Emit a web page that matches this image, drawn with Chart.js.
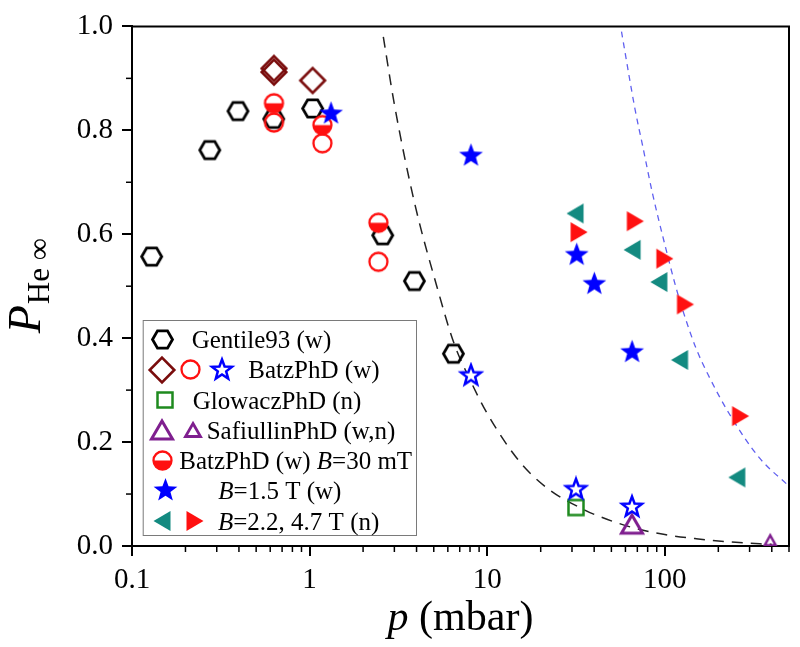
<!DOCTYPE html>
<html><head><meta charset="utf-8">
<script src="https://cdn.jsdelivr.net/npm/chart.js@4.4.0/dist/chart.umd.min.js"></script>
<style>html,body{margin:0;padding:0;background:#fff;}#wrap{width:800px;height:647px;position:relative;}</style>
</head><body><div id="wrap"><canvas id="c" width="800" height="647"></canvas></div>
<script>
// ---- data ----
const gentileP = [0.129, 0.274, 0.395, 0.628, 1.04, 2.58, 3.89, 6.45];
const gentileV = [0.557, 0.762, 0.837, 0.822, 0.842, 0.598, 0.510, 0.370];
const batzDiamondP = [0.63, 0.63, 1.04];
const batzDiamondV = [0.912, 0.919, 0.896];
const batzCircleP = [0.63, 1.18, 2.44];
const batzCircleV = [0.815, 0.775, 0.547];
const batzStarP = [8.1, 31.6, 65.3];
const batzStarV = [0.328, 0.109, 0.075];
const glowaczP = [31.6];
const glowaczV = [0.074];
const safiullinWP = [65.3];
const safiullinWV = [0.042];
const safiullinNP = [392];
const safiullinNV = [0.011];
const batz30P = [0.63, 1.18, 2.44];
const batz30V = [0.852, 0.810, 0.622];
const b15P = [1.32, 8.1, 31.9, 40.1, 65.4];
const b15V = [0.832, 0.751, 0.560, 0.504, 0.373];
const b22P = [31.2, 65.4, 92.5, 121, 254];
const b22V = [0.640, 0.570, 0.508, 0.358, 0.132];
const b47P = [32.9, 68.2, 100, 130.6, 267];
const b47V = [0.604, 0.625, 0.553, 0.465, 0.250];
const curveBlackP = [2.6, 3.0, 3.9, 5.2, 6.5, 8, 10, 15, 22, 35, 42, 65, 100, 150, 250, 400];
const curveBlackV = [0.98, 0.85, 0.66, 0.50, 0.39, 0.32, 0.255, 0.165, 0.11, 0.07, 0.058, 0.036, 0.022, 0.014, 0.007, 0.003];
const curveBlueP = [57, 68, 75, 85, 100, 115, 130, 150, 175, 230, 340, 500];
const curveBlueV = [0.99, 0.84, 0.77, 0.68, 0.58, 0.50, 0.44, 0.38, 0.33, 0.255, 0.17, 0.115];
const xTicks = [0.1, 1, 10, 100];
const yTicks = [0, 0.2, 0.4, 0.6, 0.8, 1.0];
const yMinorTicks = [0.1, 0.3, 0.5, 0.7, 0.9];

// ---- colours ----
const C_BLACK = '#000000', C_MAROON = '#7a0c0c', C_RED = '#ff1010', C_BLUE = '#0000ff',
      C_GREEN = '#1e8a1e', C_PURPLE = '#7f1f8f', C_TEAL = '#138a80';
const SERIF = '"Liberation Serif", "Times New Roman", serif';

// ---- marker images ----
function mk(w, h, draw) {
  const c = document.createElement('canvas'); c.width = w; c.height = h;
  const g = c.getContext('2d'); g.translate(w / 2, h / 2); draw(g); return c;
}
function hexagon(R, lw, col) {
  const s = Math.ceil(2 * R + lw + 4);
  return mk(s, s, g => { g.beginPath(); for (let i = 0; i < 6; i++) { const a = i * Math.PI / 3; g.lineTo(R * Math.cos(a), R * Math.sin(a)); } g.closePath(); g.lineWidth = lw; g.strokeStyle = col; g.stroke(); });
}
function diamond(R, lw, col) {
  const s = Math.ceil(2 * R + lw + 4);
  return mk(s, s, g => { g.beginPath(); g.moveTo(0, -R); g.lineTo(R, 0); g.lineTo(0, R); g.lineTo(-R, 0); g.closePath(); g.lineWidth = lw; g.strokeStyle = col; g.stroke(); });
}
function circ(R, lw, col) {
  const s = Math.ceil(2 * R + lw + 4);
  return mk(s, s, g => { g.beginPath(); g.arc(0, 0, R, 0, 2 * Math.PI); g.lineWidth = lw; g.strokeStyle = col; g.stroke(); });
}
function halfCirc(R, lw, col) {
  const s = Math.ceil(2 * R + lw + 4);
  return mk(s, s, g => { g.beginPath(); g.arc(0, 0, R, 0, 2 * Math.PI); g.fillStyle = '#fff'; g.fill();
    g.beginPath(); g.arc(0, 0, R, 0, Math.PI); g.closePath(); g.fillStyle = col; g.fill();
    g.beginPath(); g.arc(0, 0, R, 0, 2 * Math.PI); g.lineWidth = lw; g.strokeStyle = col; g.stroke(); });
}
function starPath(g, Ro, Ri) {
  g.beginPath();
  for (let i = 0; i < 10; i++) { const a = -Math.PI / 2 + i * Math.PI / 5; const r = i % 2 ? Ri : Ro; g.lineTo(r * Math.cos(a), r * Math.sin(a)); }
  g.closePath();
}
function starFilled(Ro, Ri, col) {
  const s = Math.ceil(2 * Ro + 4);
  return mk(s, s, g => { starPath(g, Ro, Ri); g.fillStyle = col; g.fill(); });
}
function starOpen(Ro, Ri, lw, col) {
  const s = Math.ceil(2 * Ro + lw + 4);
  return mk(s, s, g => { starPath(g, Ro, Ri); g.fillStyle = '#fff'; g.fill(); g.lineWidth = lw; g.strokeStyle = col; g.lineJoin = 'miter'; g.stroke(); });
}
function square(a, lw, col) {
  const s = Math.ceil(a + lw + 4);
  return mk(s, s, g => { g.lineWidth = lw; g.strokeStyle = col; g.strokeRect(-a / 2, -a / 2, a, a); });
}
function triUp(b, h, lw, col) {
  const s = Math.ceil(Math.max(b, h) + lw + 6);
  return mk(s, s, g => { g.beginPath(); g.moveTo(0, -h / 2); g.lineTo(b / 2, h / 2); g.lineTo(-b / 2, h / 2); g.closePath(); g.lineWidth = lw; g.strokeStyle = col; g.stroke(); });
}
function triSide(w, h, dir, col) {
  const s = Math.ceil(Math.max(w, h) + 4);
  return mk(s, s, g => { g.beginPath(); g.moveTo(dir * w / 2, 0); g.lineTo(-dir * w / 2, -h / 2); g.lineTo(-dir * w / 2, h / 2); g.closePath(); g.fillStyle = col; g.fill(); });
}

const M = {
  hex: hexagon(10, 2.8, C_BLACK),
  dia: diamond(12.3, 2.6, C_MAROON),
  cir: circ(9, 2.3, C_RED),
  half: halfCirc(9, 2.3, C_RED),
  starF: starFilled(12.5, 5.2, C_BLUE),
  starO: starOpen(10.5, 4.4, 2.5, C_BLUE),
  sq: square(15, 2.5, C_GREEN),
  triBig: triUp(21, 18, 3, C_PURPLE),
  triSmall: triUp(11, 10, 2.5, C_PURPLE),
  triLegSmall: triUp(15, 13, 2.8, C_PURPLE),
  triL: triSide(17, 20, -1, C_TEAL),
  triR: triSide(17, 20, 1, C_RED)
};

function pts(xs, ys) { return xs.map((x, i) => ({ x: x, y: ys[i] })); }
function markerSet(xs, ys, img) {
  return { data: pts(xs, ys), pointStyle: img, pointRadius: 10, pointHoverRadius: 10, showLine: false };
}

const datasets = [
  markerSet(b15P, b15V, M.starF),
  markerSet(b47P, b47V, M.triR),
  markerSet(b22P, b22V, M.triL),
  markerSet(batz30P, batz30V, M.half),
  markerSet(batzStarP, batzStarV, M.starO),
  markerSet(safiullinWP, safiullinWV, M.triBig),
  markerSet(safiullinNP, safiullinNV, M.triSmall),
  markerSet(glowaczP, glowaczV, M.sq),
  markerSet(batzCircleP, batzCircleV, M.cir),
  markerSet(batzDiamondP, batzDiamondV, M.dia),
  markerSet(gentileP, gentileV, M.hex),
  { data: pts(curveBlackP, curveBlackV), showLine: true, pointRadius: 0, borderColor: '#222', borderWidth: 1.5,
    borderDash: [11, 8], cubicInterpolationMode: 'monotone', fill: false },
  { data: pts(curveBlueP, curveBlueV), showLine: true, pointRadius: 0, borderColor: '#6060f0', borderWidth: 1.3,
    borderDash: [6, 5], cubicInterpolationMode: 'monotone', fill: false }
];

const decorPlugin = {
  id: 'decor',
  afterDraw(chart) {
    const g = chart.ctx, a = chart.chartArea, xs = chart.scales.x, ys = chart.scales.y;
    g.save();
    // frame top/right
    g.strokeStyle = '#000'; g.lineWidth = 2;
    g.beginPath(); g.moveTo(a.left, a.top); g.lineTo(a.right, a.top); g.lineTo(a.right, a.bottom); g.stroke();
    // minor ticks
    g.lineWidth = 1.5;
    for (let d = -1; d <= 2; d++) for (let k = 2; k <= 9; k++) {
      const v = k * Math.pow(10, d); if (v > 500) continue;
      const px = xs.getPixelForValue(v);
      g.beginPath(); g.moveTo(px, a.bottom); g.lineTo(px, a.bottom + 6); g.stroke();
    }
    yMinorTicks.forEach(v => { const py = ys.getPixelForValue(v); g.beginPath(); g.moveTo(a.left, py); g.lineTo(a.left - 6, py); g.stroke(); });

    // axis titles
    g.fillStyle = '#000'; g.textBaseline = 'alphabetic';
    g.font = 'italic 42px ' + SERIF;
    const t1 = 'p', t2 = ' (mbar)';
    const w1 = g.measureText(t1).width; g.font = '42px ' + SERIF; const w2 = g.measureText(t2).width;
    const cx = (a.left + a.right) / 2, bx = cx - (w1 + w2) / 2;
    g.font = 'italic 42px ' + SERIF; g.textAlign = 'left'; g.fillText(t1, bx, 630);
    g.font = '42px ' + SERIF; g.fillText(t2, bx + w1, 630);

    g.save();
    g.translate(40, (a.top + a.bottom) / 2); g.rotate(-Math.PI / 2);
    g.font = 'italic 46px ' + SERIF; const pw = g.measureText('P').width;
    g.font = '31px ' + SERIF; const sw = g.measureText('He \u221E').width;
    const sx = -(pw + sw) / 2;
    g.font = 'italic 46px ' + SERIF; g.fillText('P', sx, 0);
    g.font = '31px ' + SERIF; g.fillText('He \u221E', sx + pw + 1, 9);
    g.restore();

    // legend
    const L = 142.7, T = 320, R = 416, B = 535;
    g.fillStyle = '#fff'; g.fillRect(L, T, R - L, B - T);
    g.strokeStyle = '#7a7a7a'; g.lineWidth = 1; g.strokeRect(L + 0.5, T + 0.5, R - L, B - T);
    const rows = [339, 369.5, 400, 430, 460, 490.5, 521];
    const drawM = (img, x, y) => g.drawImage(img, Math.round(x - img.width / 2), Math.round(y - img.height / 2));
    drawM(M.hex, 162.7, rows[0]);
    drawM(M.dia, 161.7, rows[1]); drawM(M.cir, 190, rows[1]); drawM(M.starO, 221.7, rows[1]);
    drawM(M.sq, 165, rows[2]);
    drawM(M.triBig, 161.7, rows[3]); drawM(M.triLegSmall, 192.7, rows[3]);
    drawM(M.half, 162.7, rows[4]);
    drawM(M.starF, 165, rows[5]);
    drawM(M.triL, 161.5, rows[6]); drawM(M.triR, 195, rows[6]);
    g.fillStyle = '#000'; g.textAlign = 'left'; g.textBaseline = 'alphabetic';
    const up = '25px ' + SERIF, it = 'italic 25px ' + SERIF;
    const seg = (parts, x, y) => { parts.forEach(p => { g.font = p[1] ? it : up; g.fillText(p[0], x, y); x += g.measureText(p[0]).width; }); };
    seg([['Gentile93 (w)', 0]], 191.7, rows[0] + 8.5);
    seg([['BatzPhD (w)', 0]], 248.3, rows[1] + 8.5);
    seg([['GlowaczPhD (n)', 0]], 192.7, rows[2] + 8.5);
    seg([['SafiullinPhD (w,n)', 0]], 206.7, rows[3] + 8.5);
    seg([['BatzPhD (w) ', 0], ['B', 1], ['=30 mT', 0]], 179.3, rows[4] + 8.5);
    seg([['B', 1], ['=1.5 T (w)', 0]], 218.3, rows[5] + 8.5);
    seg([['B', 1], ['=2.2, 4.7 T (n)', 0]], 218, rows[6] + 8.5);
    g.restore();
  }
};

new Chart(document.getElementById('c'), {
  type: 'scatter',
  data: { datasets: datasets },
  options: {
    responsive: false, animation: false, devicePixelRatio: 1,
    layout: { padding: { top: 22, right: 11, left: 0, bottom: 0 } },
    plugins: { legend: { display: false }, tooltip: { enabled: false } },
    scales: {
      x: {
        type: 'logarithmic', min: 0.1, max: 500,
        afterBuildTicks: s => { s.ticks = xTicks.map(v => ({ value: v })); },
        afterFit: s => { s.height = 101; },
        ticks: { callback: v => String(v), font: { family: SERIF, size: 29 }, color: '#000', padding: 7, maxRotation: 0, autoSkip: false },
        grid: { drawOnChartArea: false, drawTicks: true, tickLength: 10, color: '#000', lineWidth: 2 },
        border: { display: true, color: '#000', width: 2 }
      },
      y: {
        type: 'linear', min: 0, max: 1,
        afterBuildTicks: s => { s.ticks = yTicks.map(v => ({ value: v })); },
        afterFit: s => { s.width = 132; },
        ticks: { callback: v => Number(v).toFixed(1), font: { family: SERIF, size: 29 }, color: '#000', padding: 9 },
        grid: { drawOnChartArea: false, drawTicks: true, tickLength: 10, color: '#000', lineWidth: 2 },
        border: { display: true, color: '#000', width: 2 }
      }
    }
  },
  plugins: [decorPlugin]
});
</script></body></html>
